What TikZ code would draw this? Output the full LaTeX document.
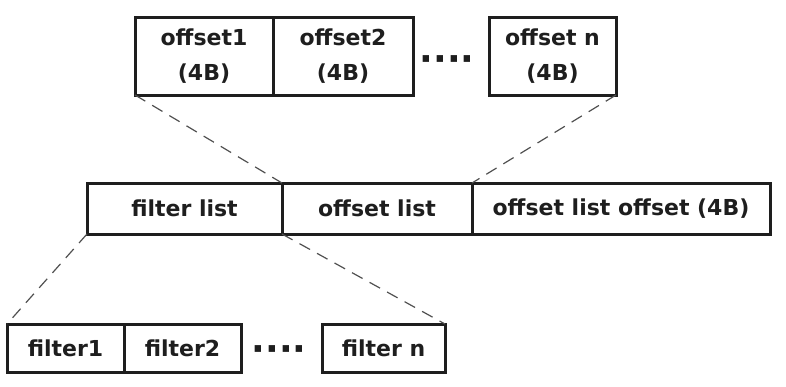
\documentclass[tikz,border=0pt]{standalone}
\usepackage{fontspec}
\setmainfont{DejaVu Sans}
\usetikzlibrary{positioning}

\definecolor{ink}{HTML}{1E1E1E}
\definecolor{guide}{HTML}{505050}

\begin{document}
\begin{tikzpicture}[
  x=1pt, y=-1pt,
  font=\bfseries\fontsize{22}{35}\selectfont,
  cell/.style={draw=ink, text=ink, line width=3pt, outer sep=0pt, inner sep=0pt, align=center},
  topcell/.style={cell, minimum height=78pt},
  midcell/.style={cell, minimum height=51pt},
  lowcell/.style={cell, minimum height=48pt},
  more/.style={text=ink, inner sep=0pt, font=\bfseries\fontsize{36}{36}\selectfont},
  guideline/.style={draw=guide, line width=1.2pt, dash pattern=on 12pt off 8pt}
]
\useasboundingbox (0,0) rectangle (786,386);

% offsets
\node[topcell, minimum width=138pt] (off1) at (204,56) {offset1\\(4B)};
\node[topcell, minimum width=140pt, right=0pt of off1] (off2) {offset2\\(4B)};
\node[more] (offdots) at (447,64) {····};
\node[topcell, minimum width=127pt] (offn) at (552.5,56) {offset n\\(4B)};

% index block
\node[midcell, minimum width=195pt] (flist) at (184.5,208.5) {filter list};
\node[midcell, minimum width=190pt, right=0pt of flist] (olist) {offset list};
\node[midcell, minimum width=298pt, right=0pt of olist] (oloff) {offset list offset (4B)};

% filters
\node[lowcell, minimum width=117pt] (f1) at (65.5,348) {filter1};
\node[lowcell, minimum width=117pt, right=0pt of f1] (f2) {filter2};
\node[more] (fdots) at (279,354) {····};
\node[lowcell, minimum width=123pt] (fn) at (383.5,348) {filter n};

\draw[guideline] (off1.south west) -- (olist.north west);
\draw[guideline] (offn.south east) -- (oloff.north west);
\draw[guideline] (flist.south west) -- (f1.north west);
\draw[guideline] (olist.south west) -- (fn.north east);
\end{tikzpicture}
\end{document}
